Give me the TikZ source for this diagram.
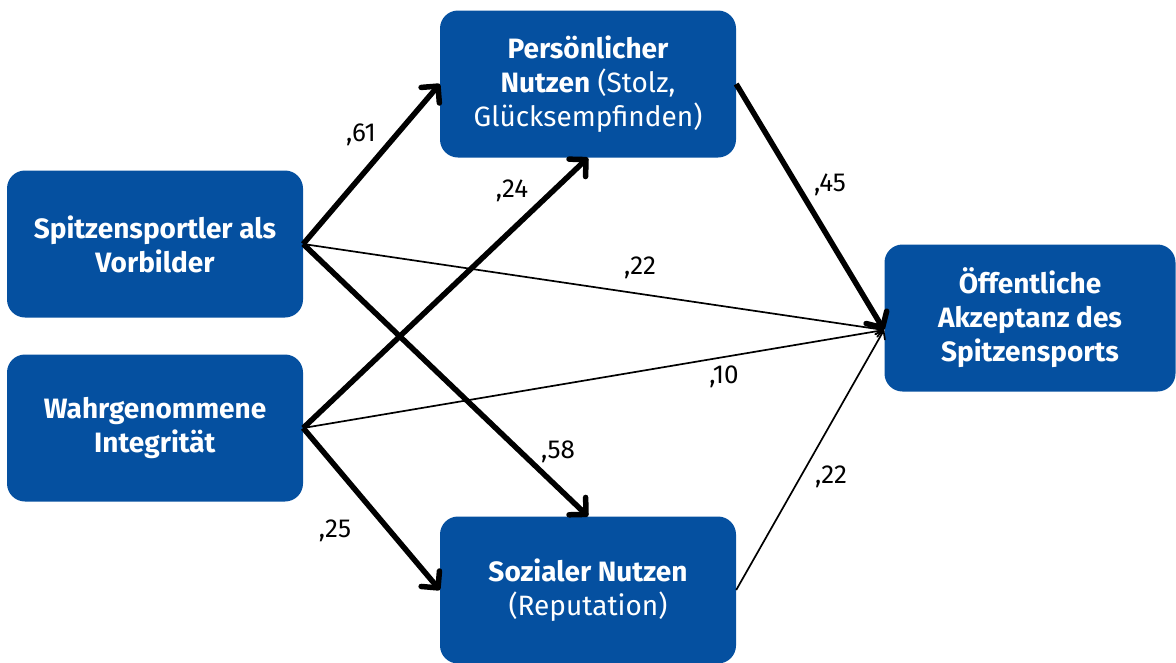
\documentclass[tikz,border=0pt]{standalone}
\usepackage{fontspec}
\setmainfont{Fira Sans}
\usepackage{xcolor}
\usetikzlibrary{arrows.meta}
\definecolor{kastenblau}{RGB}{5,80,160}

\begin{document}
\begin{tikzpicture}[x=1pt,y=-1pt,
  kasten/.style={fill=kastenblau, rounded corners=18pt, minimum width=296pt, minimum height=147pt,
    inner sep=0pt, text=white, align=center, font=\fontsize{28}{34}\selectfont},
  stark/.style={-{Straight Barb[length=12pt,width=24pt,round]}, line width=5.5pt},
  duenn/.style={-{Straight Barb[length=7pt,width=11pt,round]}, line width=1.7pt},
  koeff/.style={font=\fontsize{26}{30}\selectfont}]
\useasboundingbox (0,0) rectangle (1176,662);
% boxes
\node [kasten] (vorbild) at (155,244) {\textbf{Spitzensportler als}\\\textbf{Vorbilder}};
\node [kasten] (integr) at (155,428) {\textbf{Wahrgenommene}\\\textbf{Integrität}};
\node [kasten] (persnutz) at (588,84) {\textbf{Persönlicher}\\\textbf{Nutzen} (Stolz,\\Glücksempfinden)};
\node [kasten] (soznutz) at (588,590) {\textbf{Sozialer Nutzen}\\(Reputation)};
\node [kasten, minimum width=291pt] (akzept) at (1030,318) {\textbf{Öffentliche}\\\textbf{Akzeptanz des}\\\textbf{Spitzensports}};
\coordinate (ziel) at (884,330);
% paths
\draw [stark] (vorbild.east) -- (persnutz.west);
\draw [stark] (integr.east) -- (persnutz.south);
\draw [stark] (vorbild.east) -- (soznutz.north);
\draw [stark] (integr.east) -- (soznutz.west);
\draw [duenn] (vorbild.east) -- (ziel);
\draw [duenn] (integr.east) -- (ziel);
\draw [stark] (persnutz.east) -- (ziel);
\draw [duenn] (soznutz.east) -- (ziel);
% coefficients
\node [koeff] (k61) at (361,135) {,61};
\node [koeff] (k24) at (512,191) {,24};
\node [koeff] (k58) at (558,452) {,58};
\node [koeff] (k25) at (335,531) {,25};
\node [koeff] (k22a) at (640,268) {,22};
\node [koeff] (k10) at (724,377) {,10};
\node [koeff] (k45) at (830,185) {,45};
\node [koeff] (k22b) at (831,477) {,22};
\end{tikzpicture}
\end{document}
